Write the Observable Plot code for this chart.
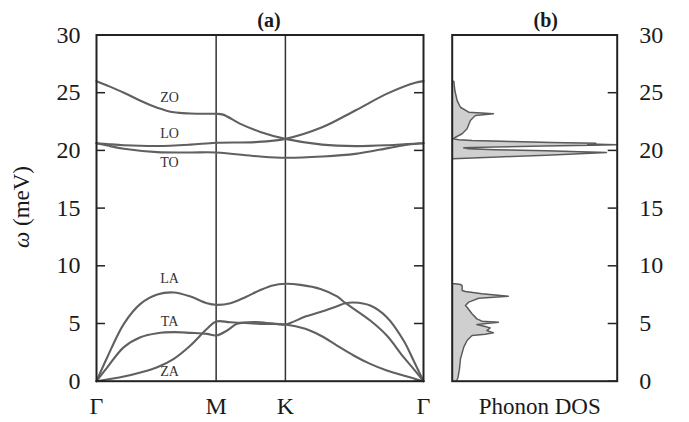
<!DOCTYPE html>
<html><head><meta charset="utf-8">
<script src="https://cdn.jsdelivr.net/npm/d3@7"></script>
<script src="https://cdn.jsdelivr.net/npm/@observablehq/plot@0.6"></script>
<style>
body{margin:0;background:#fff;}
#wrap{position:relative;width:689px;height:422px;font-family:"Liberation Serif",serif;}
#wrap svg{position:absolute;top:0;overflow:visible;}
</style></head><body><div id="wrap"></div>
<script>
// High-symmetry path
const kLabels = ["Γ", "M", "K", "Γ"];
const kPos = [0, 0.577, 0.911, 1.577];
const yTicks = [0, 5, 10, 15, 20, 25, 30];

// Dispersion bands (q along Γ-M-K-Γ, energy in meV)
const qZA = [0, 0.132, 0.212, 0.293, 0.373, 0.453, 0.533, 0.577, 0.646, 0.79, 0.911, 1.007, 1.08, 1.16, 1.24, 1.32, 1.40, 1.48, 1.577];
const eZA = [0, 0.4, 0.75, 1.21, 1.94, 3.09, 4.54, 5.17, 5.11, 4.97, 4.92, 4.54, 3.96, 3.09, 2.23, 1.5, 0.93, 0.49, 0];
const qTA = [0, 0.052, 0.132, 0.212, 0.293, 0.373, 0.453, 0.533, 0.577, 0.630, 0.678, 0.766, 0.85, 0.911, 1.007, 1.08, 1.16, 1.20, 1.24, 1.32, 1.40, 1.481, 1.529, 1.577];
const eTA = [0, 1.2, 2.95, 3.81, 4.16, 4.25, 4.19, 4.1, 3.96, 4.39, 4.97, 5.12, 5.0, 4.92, 5.6, 6.0, 6.5, 6.75, 6.82, 6.56, 5.55, 3.53, 1.79, 0];
const qLA = [0, 0.052, 0.132, 0.212, 0.293, 0.373, 0.453, 0.533, 0.577, 0.646, 0.72, 0.79, 0.85, 0.911, 0.983, 1.08, 1.16, 1.20, 1.32, 1.40, 1.481, 1.529, 1.577];
const eLA = [0, 2.08, 4.97, 6.7, 7.51, 7.69, 7.34, 6.76, 6.62, 6.76, 7.3, 7.9, 8.3, 8.44, 8.35, 8.0, 7.35, 6.78, 5.26, 3.96, 2.08, 1.07, 0];
const qTO = [0, 0.052, 0.132, 0.293, 0.453, 0.577, 0.79, 0.911, 1.088, 1.248, 1.407, 1.50, 1.577];
const eTO = [20.62, 20.42, 20.14, 19.85, 19.82, 19.82, 19.47, 19.36, 19.47, 19.7, 20.2, 20.5, 20.62];
const qO1 = [0, 0.052, 0.132, 0.212, 0.293, 0.373, 0.453, 0.533, 0.577, 0.61, 0.694, 0.79, 0.911, 1.088, 1.248, 1.407, 1.50, 1.577];
const eO1 = [26.0, 25.62, 25.0, 24.3, 23.7, 23.3, 23.2, 23.17, 23.17, 23.1, 22.3, 21.6, 21.0, 20.5, 20.37, 20.45, 20.55, 20.62];
const qO2 = [0, 0.052, 0.132, 0.293, 0.453, 0.577, 0.766, 0.911, 1.088, 1.248, 1.407, 1.537, 1.577];
const eO2 = [20.62, 20.55, 20.45, 20.38, 20.5, 20.66, 20.72, 21.0, 22.0, 23.46, 24.96, 25.86, 26.0];

// Mode labels
const modeNames = ["ZO", "LO", "TO", "LA", "TA", "ZA"];
const modeE = [24.55, 21.45, 18.95, 8.9, 5.15, 0.85];
const modeQ = [0.352, 0.352, 0.352, 0.352, 0.352, 0.352];

// Phonon DOS (energy in meV, DOS in arbitrary units)
const dosE = [0, 0.3, 1.07, 1.94, 2.95, 3.53, 3.96, 4.07, 4.19, 4.39, 4.62, 4.74, 4.91, 5.11, 5.2, 5.4, 5.84, 6.41, 6.56, 6.85, 7.19, 7.37, 7.57, 7.77, 7.86, 8.29, 8.38, 8.42, 8.46,
  19.25, 19.27, 19.36, 19.47, 19.58, 19.70, 19.82, 19.88, 19.97, 20.05, 20.14, 20.22, 20.30, 20.38, 20.45, 20.50, 20.55, 20.62, 20.68, 20.77, 20.85, 20.92, 21.0,
  21.14, 21.44, 21.87, 22.59, 23.02, 23.17, 23.31, 23.74, 24.32, 25.19, 25.97, 26.02];
const dosV = [0.025, 0.035, 0.044, 0.05, 0.07, 0.09, 0.12, 0.2, 0.25, 0.21, 0.23, 0.2, 0.15, 0.28, 0.18, 0.15, 0.12, 0.09, 0.08, 0.10, 0.16, 0.34, 0.18, 0.08, 0.06, 0.06, 0.05, 0.03, 0,
  0, 0.004, 0.16, 0.36, 0.57, 0.77, 0.935, 0.77, 0.57, 0.26, 0.10, 0.07, 0.25, 0.55, 0.85, 1.0, 0.82, 0.87, 0.6, 0.36, 0.12, 0.04, 0.005,
  0.02, 0.06, 0.09, 0.11, 0.14, 0.25, 0.10, 0.05, 0.03, 0.016, 0.01, 0];

const bands = [[qZA, eZA], [qTA, eTA], [qLA, eLA], [qTO, eTO], [qO1, eO1], [qO2, eO2]];
const rows = bands.flatMap(([qs, es], b) => qs.map((q, i) => ({band: b, q, E: es[i]})));
const dos = dosE.map((E, i) => ({E, d: dosV[i]}));
const modes = modeNames.map((n, i) => ({n, q: modeQ[i], E: modeE[i]}));

const FONT = "Liberation Serif, Times New Roman, serif";
const INK = "#1a1a1a";
const LINE = "#606060";
const FRAME = "#222";

const A = Plot.plot({
  width: 440, height: 422,
  marginLeft: 96, marginRight: 17, marginTop: 34.5, marginBottom: 41.3,
  x: {domain: [0, 1.577], axis: null},
  y: {domain: [0, 30], axis: null},
  style: {fontFamily: FONT, background: "transparent", color: INK},
  marks: [
    Plot.ruleX(kPos.slice(1, 3), {stroke: "#333", strokeWidth: 1.5}),
    Plot.line(rows, {x: "q", y: "E", z: "band", stroke: LINE, strokeWidth: 2.1, curve: "catmull-rom"}),
    Plot.tickY(yTicks, {insetRight: 318, stroke: FRAME, strokeWidth: 1.5}),
    Plot.tickY(yTicks, {insetLeft: 318, stroke: FRAME, strokeWidth: 1.5}),
    Plot.frame({stroke: FRAME, strokeWidth: 2}),
    Plot.axisY(yTicks, {anchor: "left", tickSize: 0, tickPadding: 16, fontSize: 24, label: null, fill: INK}),
    Plot.text(kPos, {x: d => d, text: (d, i) => kLabels[i], frameAnchor: "bottom", lineAnchor: "middle", dy: 25, fontSize: 24, fill: INK}),
    Plot.text(modes, {x: "q", y: "E", text: "n", fontSize: 14, fill: "#333"}),
    Plot.text(["(a)"], {frameAnchor: "top", lineAnchor: "middle", dy: -14, dx: 9, text: d => d, fontSize: 20, fontWeight: "bold", fill: INK})
  ]
});
A.style.left = "0px";
// y-axis title with italic omega
const t = d3.select(A).append("text")
  .attr("transform", "translate(24,207) rotate(-90)")
  .attr("text-anchor", "middle")
  .attr("dominant-baseline", "middle")
  .attr("font-family", FONT)
  .attr("font-size", 23)
  .attr("fill", INK);
t.append("tspan").attr("font-style", "italic").text("ω");
t.append("tspan").text(" (meV)");

const B = Plot.plot({
  width: 249, height: 422,
  marginLeft: 11.7, marginRight: 72.3, marginTop: 34.5, marginBottom: 41.3,
  x: {domain: [0, 1], axis: null},
  y: {domain: [0, 30], axis: null},
  style: {fontFamily: FONT, background: "transparent", color: INK},
  marks: [
    Plot.areaX(dos, {y: "E", x: "d", fill: "#cfcfcf", clip: true}),
    Plot.lineX(dos, {y: "E", x: "d", stroke: "#5a5a5a", strokeWidth: 1.5, clip: true}),
    Plot.tickY(yTicks, {insetLeft: 156, stroke: FRAME, strokeWidth: 1.5}),
    Plot.frame({stroke: FRAME, strokeWidth: 2}),
    Plot.axisY(yTicks, {anchor: "right", tickSize: 0, tickPadding: 22, fontSize: 24, label: null, fill: INK}),
    Plot.text(["Phonon DOS"], {frameAnchor: "bottom", lineAnchor: "middle", dy: 25, dx: 5, text: d => d, fontSize: 23, fill: INK}),
    Plot.text(["(b)"], {frameAnchor: "top", lineAnchor: "middle", dy: -14, dx: 11, text: d => d, fontSize: 20, fontWeight: "bold", fill: INK})
  ]
});
B.style.left = "440px";

const wrap = document.getElementById("wrap");
wrap.appendChild(A);
wrap.appendChild(B);
</script>
</body></html>
